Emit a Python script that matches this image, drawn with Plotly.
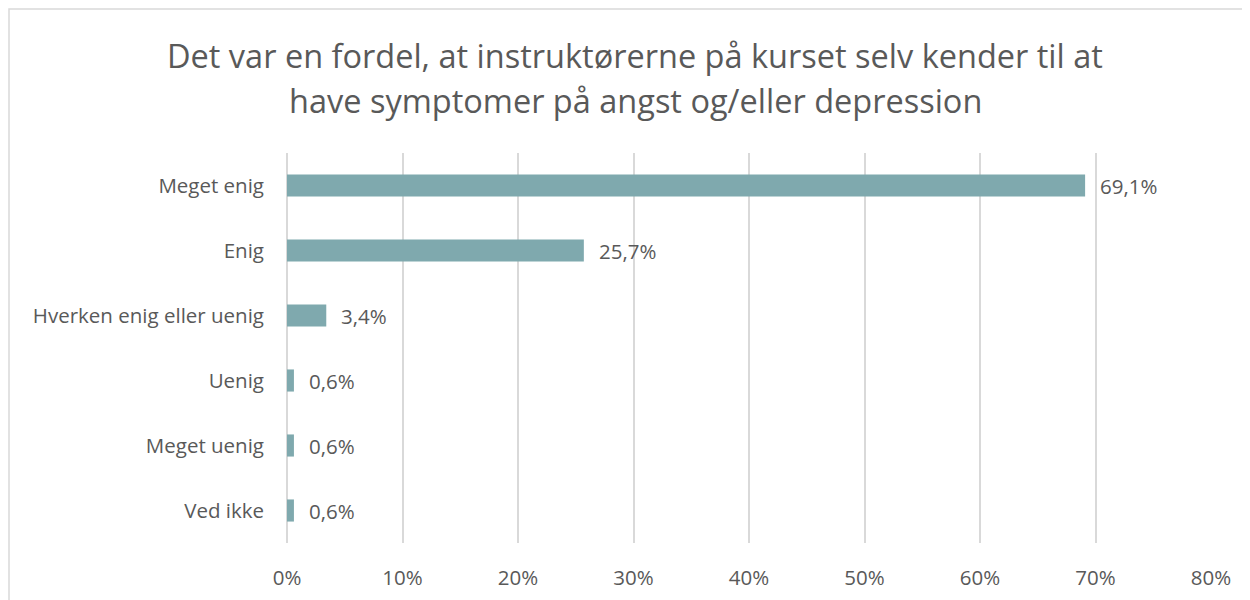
import plotly.graph_objects as go

categories = ["Meget enig", "Enig", "Hverken enig eller uenig", "Uenig", "Meget uenig", "Ved ikke"]
values = [69.1, 25.7, 3.4, 0.6, 0.6, 0.6]
labels = ["69,1%", "25,7%", "3,4%", "0,6%", "0,6%", "0,6%"]
tick_vals = [0, 10, 20, 30, 40, 50, 60, 70, 80]
tick_text = ["0%", "10%", "20%", "30%", "40%", "50%", "60%", "70%", "80%"]

title_lines = ["Det var en fordel, at instruktørerne på kurset selv kender til at",
               "have symptomer på angst og/eller depression"]

FONT = "'Open Sans', sans-serif"
GREY = "#595959"
LBL = 20.5

W, H = 1250, 600
L, R, T, B = 279, 47, 145, 65
pw, ph = W - L - R, H - T - B

fig = go.Figure()
fig.add_trace(go.Bar(
    y=categories, x=values, orientation="h",
    marker=dict(color="#7FA9AE", line=dict(width=0)),
    width=0.34, hoverinfo="skip",
))

for c, v, t in zip(categories, values, labels):
    fig.add_annotation(x=v, y=c, text=t, showarrow=False, xanchor="left",
                       xshift=13, font=dict(size=LBL, color=GREY, family=FONT))

# title as two lines (wider line spacing than plotly's title)
for i, line in enumerate(title_lines):
    fy = 47 + 45 * i
    fig.add_annotation(xref="paper", yref="paper", x=(627 - L) / pw, y=(H - B - fy) / ph,
                       text=line, showarrow=False, xanchor="center", yanchor="middle",
                       font=dict(size=32.5, color=GREY, family=FONT))

fig.add_shape(type="rect", xref="paper", yref="paper",
              x0=(1 - L) / pw, x1=(W + 10 - L) / pw,
              y0=(H - B - (H + 10)) / ph, y1=(H - B - 1) / ph,
              line=dict(color="#D9D9D9", width=1.5), fillcolor="rgba(0,0,0,0)", layer="below")

fig.update_layout(
    width=W, height=H,
    margin=dict(l=L, r=R, t=T, b=B),
    paper_bgcolor="white", plot_bgcolor="white",
    font=dict(family=FONT, color=GREY, size=LBL),
    separators=",.",
    showlegend=False,
    bargap=0.66,
)
fig.update_xaxes(range=[0, 80], tickvals=tick_vals, ticktext=tick_text,
                 showgrid=True, gridcolor="#D9D9D9", gridwidth=1.5,
                 zeroline=True, zerolinecolor="#D9D9D9", zerolinewidth=1.5,
                 showline=False, ticks="", ticklabelstandoff=20,
                 tickfont=dict(size=LBL, color=GREY, family=FONT), fixedrange=True)
fig.update_yaxes(categoryorder="array", categoryarray=categories[::-1],
                 showgrid=False, zeroline=False, showline=False, ticks="",
                 ticklabelstandoff=22, tickfont=dict(size=LBL, color=GREY, family=FONT),
                 fixedrange=True)

fig.write_html("out.html", config={"displayModeBar": False})
